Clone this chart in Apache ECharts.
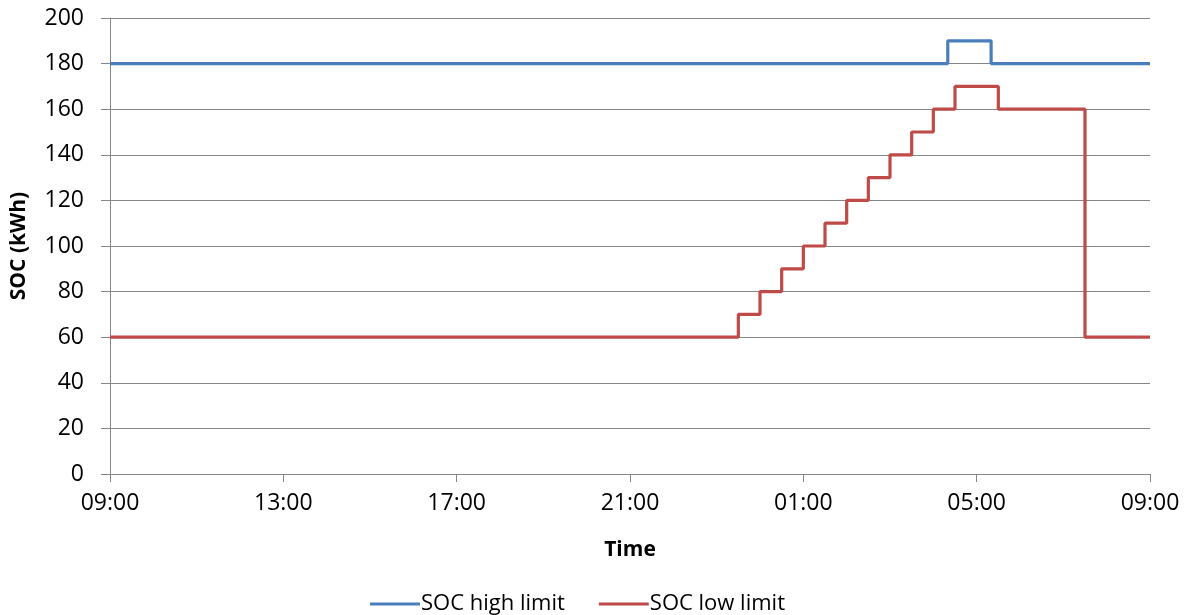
<!DOCTYPE html>
<html>
<head>
<meta charset="utf-8">
<script src="https://cdn.jsdelivr.net/npm/echarts@6/dist/echarts.min.js"></script>
<style>
html,body{margin:0;padding:0;background:#fff;}
#chart{width:1190px;height:615px;}
</style>
</head>
<body>
<div id="chart"></div>
<script>
// Data (times are clock times, day runs 09:00 -> 09:00 next day)
const highTimes  = ['09:00', '04:20', '05:20', '09:00'];
const highValues = [180, 190, 180, 180];
const lowTimes   = ['09:00', '23:30', '00:00', '00:30', '01:00', '01:30', '02:00', '02:30', '03:00', '03:30', '04:00', '04:30', '05:30', '07:30', '09:00'];
const lowValues  = [60, 70, 80, 90, 100, 110, 120, 130, 140, 150, 160, 170, 160, 60, 60];
const seriesNames = ['SOC high limit', 'SOC low limit'];
const xTitle = 'Time';
const yTitle = 'SOC (kWh)';

const START_MIN = 9 * 60;
function toOffset(t, i) {
  const [h, m] = t.split(':').map(Number);
  let off = (h * 60 + m - START_MIN + 1440) % 1440;
  if (i > 0 && off === 0) off = 1440;
  return off;
}
function pairs(times, vals) {
  return times.map((t, i) => [toOffset(t, i), vals[i]]);
}
function fmt(v) {
  const tot = (START_MIN + v) % 1440;
  const h = Math.floor(tot / 60), m = tot % 60;
  return String(h).padStart(2, '0') + ':' + String(m).padStart(2, '0');
}

const FONT = 'Open Sans';
const GRID = '#868686';
const chart = echarts.init(document.getElementById('chart'), null, {renderer: 'canvas'});
chart.setOption({
  animation: false,
  textStyle: {fontFamily: FONT},
  grid: {left: 110, right: 40, top: 18, bottom: 141, containLabel: false, outerBoundsMode: 'none'},
  legend: {
    top: 588,
    left: 365,
    icon: 'rect',
    itemWidth: 50,
    itemHeight: 3,
    itemGap: 34,
    textStyle: {fontFamily: FONT, fontSize: 22, color: '#000', padding: [0, 0, 0, -4]},
    data: seriesNames
  },
  xAxis: {
    type: 'value',
    min: 0, max: 1440, interval: 240,
    name: xTitle,
    nameLocation: 'middle',
    nameGap: 66,
    nameTextStyle: {fontFamily: FONT, fontSize: 21, fontWeight: 'bold', color: '#000'},
    axisLine: {show: true, lineStyle: {color: GRID, width: 1}},
    axisTick: {show: true, length: 8, lineStyle: {color: GRID}},
    axisLabel: {formatter: fmt, fontFamily: FONT, fontSize: 23, color: '#000', margin: 18},
    splitLine: {show: false}
  },
  yAxis: {
    type: 'value',
    min: 0, max: 200, interval: 20,
    name: yTitle,
    nameLocation: 'middle',
    nameGap: 80,
    nameTextStyle: {fontFamily: FONT, fontSize: 21, fontWeight: 'bold', color: '#000'},
    axisLine: {show: true, lineStyle: {color: GRID, width: 1}},
    axisTick: {show: true, length: 9, lineStyle: {color: GRID}},
    axisLabel: {fontFamily: FONT, fontSize: 23, color: '#000', margin: 26},
    splitLine: {show: true, lineStyle: {color: GRID, width: 1}}
  },
  series: [
    {
      name: seriesNames[0], type: 'line', step: 'end', symbol: 'none',
      data: pairs(highTimes, highValues),
      lineStyle: {color: '#4a7ebb', width: 3.2},
      itemStyle: {color: '#4a7ebb'}
    },
    {
      name: seriesNames[1], type: 'line', step: 'end', symbol: 'none',
      data: pairs(lowTimes, lowValues),
      lineStyle: {color: '#be4b48', width: 3.2},
      itemStyle: {color: '#be4b48'}
    }
  ]
});
</script>
</body>
</html>
